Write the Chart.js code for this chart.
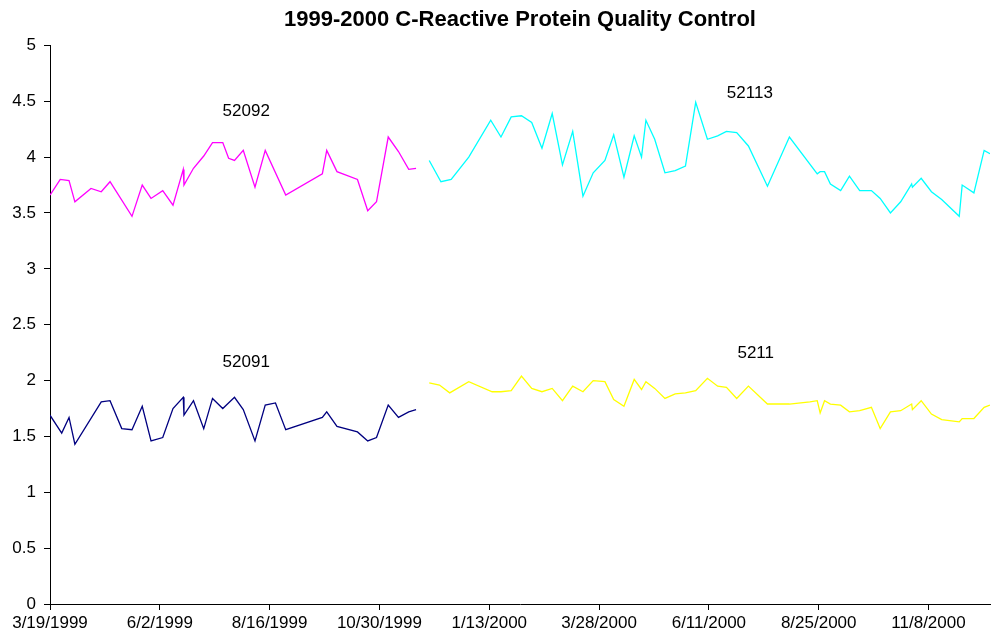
<!DOCTYPE html>
<html>
<head>
<meta charset="utf-8">
<script src="https://cdn.jsdelivr.net/npm/chart.js@4"></script>
<style>
  html, body { margin: 0; padding: 0; background: #fff; }
  #wrap { width: 991px; height: 642px; }
</style>
</head>
<body>
<div id="wrap"><canvas id="qcChart" width="991" height="642"></canvas></div>
<script>
// x values are days since 3/19/1999
const days52092 = [0, 7, 13, 17, 28, 35, 41, 56, 63, 69, 77, 84, 91, 91.5, 98, 105, 111, 118, 122, 126, 132, 140, 147, 161, 186, 189, 196, 210, 217, 223, 231, 238, 245, 250];
const vals52092 = [3.66, 3.80, 3.79, 3.60, 3.72, 3.69, 3.78, 3.47, 3.75, 3.63, 3.70, 3.57, 3.89, 3.75, 3.90, 4.01, 4.13, 4.13, 3.99, 3.97, 4.06, 3.73, 4.06, 3.66, 3.85, 4.06, 3.87, 3.80, 3.52, 3.60, 4.18, 4.05, 3.89, 3.90];

const days52091 = [0, 8, 13, 17, 35, 41, 49, 56, 63, 69, 77, 84, 91, 91.5, 98, 105, 111, 118, 126, 132, 140, 147, 154, 161, 186, 189, 196, 210, 217, 223, 231, 238, 245, 250];
const vals52091 = [1.69, 1.53, 1.67, 1.43, 1.81, 1.82, 1.57, 1.56, 1.77, 1.46, 1.49, 1.75, 1.85, 1.69, 1.82, 1.57, 1.84, 1.75, 1.85, 1.74, 1.46, 1.78, 1.80, 1.56, 1.67, 1.72, 1.59, 1.54, 1.46, 1.49, 1.78, 1.67, 1.72, 1.74];

const days52113 = [259, 267, 274, 286, 301, 308, 315, 322, 329, 336, 343, 350, 357, 364, 371, 379, 385, 392, 399, 404, 407, 413, 420, 427, 434, 441, 449, 456, 462, 469, 477, 490, 505, 524, 526, 529, 533, 540, 546, 553, 561, 567, 574, 581, 588.5, 589, 595, 602, 609, 621, 623, 631, 638, 642];
const vals52113 = [3.97, 3.78, 3.80, 4.00, 4.33, 4.18, 4.36, 4.37, 4.31, 4.08, 4.39, 3.93, 4.23, 3.65, 3.86, 3.97, 4.20, 3.82, 4.19, 4.00, 4.33, 4.16, 3.86, 3.88, 3.92, 4.49, 4.16, 4.19, 4.23, 4.22, 4.10, 3.74, 4.18, 3.85, 3.87, 3.87, 3.76, 3.70, 3.83, 3.70, 3.70, 3.63, 3.50, 3.60, 3.76, 3.73, 3.81, 3.69, 3.62, 3.47, 3.75, 3.68, 4.06, 4.03];

const days5211 = [259, 266, 273, 286, 302, 308, 315, 322, 329, 336, 343, 350, 357, 364, 371, 379, 385, 392, 399, 404, 407, 413, 420, 427, 434, 441, 449, 456, 462, 469, 477, 490, 505, 519, 524, 526, 529, 533, 540, 546, 553, 561, 567, 574, 581, 588.5, 589, 595, 602, 609, 621, 623, 631, 638, 642];
const vals5211 = [1.98, 1.96, 1.89, 1.99, 1.90, 1.90, 1.91, 2.04, 1.93, 1.90, 1.93, 1.82, 1.95, 1.90, 2.00, 1.99, 1.83, 1.77, 2.01, 1.92, 1.99, 1.93, 1.84, 1.88, 1.89, 1.91, 2.02, 1.95, 1.94, 1.84, 1.95, 1.79, 1.79, 1.81, 1.82, 1.71, 1.82, 1.79, 1.78, 1.72, 1.73, 1.76, 1.57, 1.72, 1.73, 1.79, 1.74, 1.82, 1.70, 1.65, 1.63, 1.66, 1.66, 1.76, 1.78];

const seriesNames = ['52092', '52091', '52113', '5211'];
const seriesColors = ['#ff00ff', '#000080', '#00ffff', '#ffff00'];

// text labels next to each series (day, value)
const labelDays = [134, 134, 478, 482];
const labelVals = [4.41, 2.16, 4.57, 2.24];

const startDate = new Date(1999, 2, 19);
function dayToLabel(v) {
    const d = new Date(startDate.getFullYear(), startDate.getMonth(), startDate.getDate() + v);
    return (d.getMonth() + 1) + '/' + d.getDate() + '/' + d.getFullYear();
}

function toPoints(days, vals) {
    return days.map((d, i) => ({ x: d, y: vals[i] }));
}

const allDays = [days52092, days52091, days52113, days5211];
const allVals = [vals52092, vals52091, vals52113, vals5211];

const datasets = seriesNames.map((name, i) => ({
    label: name,
    data: toPoints(allDays[i], allVals[i]),
    borderColor: seriesColors[i],
    backgroundColor: seriesColors[i],
    borderWidth: 1.3,
    pointRadius: 0,
    tension: 0,
    fill: false
}));

const seriesLabels = {
    id: 'seriesLabels',
    afterDatasetsDraw(chart) {
        const ctx = chart.ctx;
        const xs = chart.scales.x, ys = chart.scales.y;
        ctx.save();
        ctx.font = '17px "Liberation Sans", Arial, sans-serif';
        ctx.fillStyle = '#000';
        ctx.textAlign = 'center';
        ctx.textBaseline = 'middle';
        seriesNames.forEach((name, i) => {
            ctx.fillText(name, xs.getPixelForValue(labelDays[i]), ys.getPixelForValue(labelVals[i]));
        });
        ctx.restore();
    }
};

Chart.defaults.font.family = '"Liberation Sans", Arial, sans-serif';
Chart.defaults.color = '#000';

new Chart(document.getElementById('qcChart').getContext('2d'), {
    type: 'line',
    data: { datasets: datasets },
    options: {
        responsive: false,
        animation: false,
        layout: { padding: { left: 0, right: 1, top: 0, bottom: 0 } },
        plugins: {
            legend: { display: false },
            tooltip: { enabled: false },
            title: {
                display: true,
                text: '1999-2000 C-Reactive Protein Quality Control',
                fullSize: false,
                font: { size: 22, weight: 'bold' },
                color: '#000',
                padding: { top: 7, bottom: 12 }
            }
        },
        scales: {
            x: {
                type: 'linear',
                min: 0,
                max: 642,
                grid: { drawOnChartArea: false, drawTicks: true, tickLength: 6, color: '#000' },
                border: { display: true, color: '#000', width: 1 },
                ticks: {
                    stepSize: 75,
                    includeBounds: false,
                    autoSkip: false,
                    maxRotation: 0,
                    padding: 3,
                    font: { size: 17 },
                    callback: (v) => dayToLabel(v)
                },
                afterFit: (scale) => { scale.height = 38; }
            },
            y: {
                min: 0,
                max: 5,
                grid: { drawOnChartArea: false, drawTicks: true, tickLength: 6, color: '#000' },
                border: { display: true, color: '#000', width: 1 },
                ticks: {
                    stepSize: 0.5,
                    padding: 8,
                    font: { size: 17 },
                    callback: (v) => String(v)
                },
                afterFit: (scale) => { scale.width = 50; }
            }
        }
    },
    plugins: [seriesLabels]
});
</script>
</body>
</html>
